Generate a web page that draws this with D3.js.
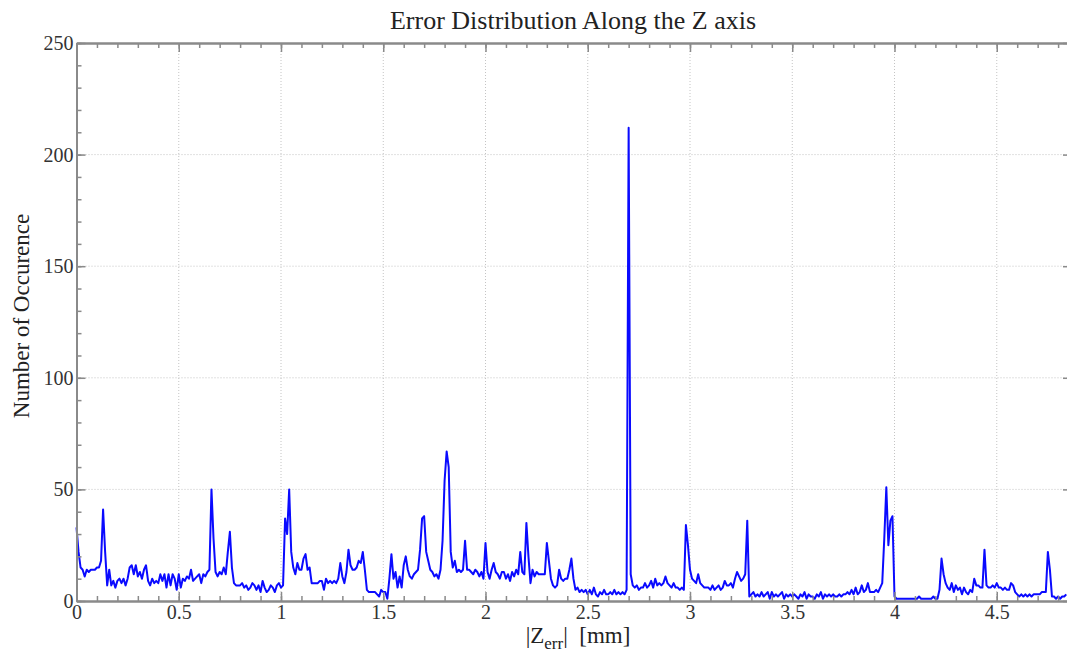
<!DOCTYPE html>
<html>
<head>
<meta charset="utf-8">
<script src="https://cdn.jsdelivr.net/npm/d3@7"></script>
<style>
  body { margin: 0; background: #fff; }
  text { font-family: "Liberation Serif", "Times New Roman", serif; }
</style>
</head>
<body>
<div id="chart"></div>
<script>
// histogram of |Z_err|, one bin every 0.01 mm starting at 0
const binStep = 0.01;
const counts = [
    33, 22, 15, 14, 11, 14, 13, 14, 14, 14,
    15, 15, 18, 41, 22, 7, 14, 7, 9, 6,
    9, 10, 8, 10, 7, 10, 15, 16, 12, 16,
    11, 13, 10, 14, 16, 9, 7, 10, 8, 9,
    8, 12, 9, 12, 6, 12, 7, 12, 10, 5,
    12, 6, 10, 9, 11, 10, 14, 9, 10, 11,
    12, 8, 12, 11, 13, 14, 50, 28, 13, 11,
    13, 12, 15, 12, 22, 31, 15, 8, 7, 7,
    7, 8, 6, 7, 5, 6, 8, 7, 5, 7,
    4, 9, 6, 4, 5, 7, 6, 4, 7, 8,
    6, 7, 37, 30, 50, 22, 15, 12, 17, 14,
    14, 19, 21, 14, 15, 8, 8, 8, 8, 9,
    9, 5, 10, 8, 9, 8, 9, 8, 10, 17,
    11, 8, 13, 23, 16, 14, 14, 15, 18, 17,
    22, 14, 5, 4, 4, 4, 4, 3, 2, 5,
    4, 4, 1, 10, 21, 10, 13, 6, 11, 6,
    16, 20, 14, 11, 10, 12, 13, 14, 23, 37,
    38, 22, 18, 14, 13, 11, 12, 10, 14, 27,
    54, 67, 60, 22, 15, 18, 13, 14, 13, 14,
    27, 14, 14, 13, 12, 14, 13, 11, 13, 10,
    26, 13, 10, 14, 17, 13, 12, 10, 13, 13,
    10, 12, 9, 13, 11, 14, 12, 22, 13, 12,
    35, 20, 8, 14, 11, 13, 12, 12, 12, 12,
    26, 18, 10, 7, 6, 7, 14, 10, 9, 10,
    10, 14, 19, 10, 5, 6, 4, 5, 4, 5,
    3, 5, 3, 6, 3, 2, 4, 3, 5, 3,
    3, 4, 3, 5, 3, 4, 3, 4, 3, 5,
    212, 12, 7, 6, 7, 5, 6, 6, 8, 6,
    7, 9, 6, 10, 7, 8, 7, 8, 11, 8,
    7, 6, 8, 6, 6, 5, 6, 5, 34, 25,
    14, 10, 9, 8, 12, 8, 7, 6, 6, 6,
    5, 7, 5, 6, 7, 5, 6, 9, 7, 7,
    8, 6, 10, 13, 11, 9, 10, 12, 36, 2,
    3, 4, 2, 3, 2, 4, 2, 3, 4, 1,
    4, 2, 3, 2, 3, 4, 1, 3, 2, 3,
    2, 3, 2, 1, 3, 2, 4, 1, 3, 2,
    2, 1, 3, 2, 4, 1, 3, 2, 3, 2,
    3, 2, 2, 3, 2, 3, 3, 4, 3, 5,
    3, 6, 3, 4, 7, 4, 5, 8, 4, 4,
    4, 5, 4, 6, 8, 28, 51, 25, 36, 38,
    2, 1, 1, 1, 1, 1, 1, 1, 1, 1,
    1, 1, 2, 1, 1, 1, 1, 1, 1, 2,
    1, 1, 5, 19, 12, 8, 6, 5, 8, 4,
    7, 5, 6, 3, 6, 4, 3, 5, 4, 10,
    7, 7, 6, 6, 23, 7, 6, 6, 7, 6,
    8, 6, 6, 5, 6, 5, 5, 8, 7, 4,
    3, 2, 3, 2, 3, 2, 3, 2, 3, 3,
    3, 3, 4, 4, 4, 22, 14, 2, 2, 1,
    2, 1, 2, 2, 3
];

const xTicks = [0, 0.5, 1, 1.5, 2, 2.5, 3, 3.5, 4, 4.5];
const yTicks = [0, 50, 100, 150, 200, 250];
const xMinor = d3.range(0, 4.86, 0.1);
const yMinor = d3.range(0, 251, 10);

function init() {
    const w = 1067;
    const h = 659;

    const svg = d3.select("#chart")
        .append("svg")
        .attr("width", w)
        .attr("height", h);

    const x = d3.scaleLinear()
        .domain([0, 4.85])
        .range([76.5, 76.5 + 4.85 * 204.5]);

    const y = d3.scaleLinear()
        .domain([0, 250])
        .range([601, 43]);

    const axisColor = "#8a8a8a";
    const rightEdge = 1072; // right frame sits just outside the picture

    // grid
    svg.append("g")
        .selectAll("line")
        .data(xTicks.slice(1))
        .enter()
        .append("line")
        .attr("x1", d => x(d)).attr("x2", d => x(d))
        .attr("y1", y(0)).attr("y2", y(250))
        .attr("stroke", "#c4c4c4")
        .attr("stroke-dasharray", "1,2");

    svg.append("g")
        .selectAll("line")
        .data(yTicks.slice(1, -1))
        .enter()
        .append("line")
        .attr("x1", x.range()[0]).attr("x2", rightEdge)
        .attr("y1", d => y(d)).attr("y2", d => y(d))
        .attr("stroke", "#c4c4c4")
        .attr("stroke-dasharray", "1,2");

    // data line
    const line = d3.line()
        .x((d, i) => x(i * binStep))
        .y(d => y(d));

    svg.append("path")
        .datum(counts)
        .attr("fill", "none")
        .attr("stroke", "#0a0aff")
        .attr("stroke-width", 2)
        .attr("stroke-linejoin", "round")
        .attr("d", line);

    function styleAxis(g) {
        g.select(".domain").attr("stroke", axisColor).attr("stroke-width", 2);
        g.selectAll(".tick line").attr("stroke", axisColor).attr("stroke-width", 1.5);
        g.selectAll(".tick text")
            .attr("fill", "#333")
            .style("font-size", "20px")
            .style("font-family", "'Liberation Serif', 'Times New Roman', serif");
    }

    // minor ticks
    svg.append("g")
        .attr("transform", "translate(0," + y(0) + ")")
        .call(d3.axisBottom(x).tickValues(xMinor).tickSize(-5).tickSizeOuter(0).tickFormat(""))
        .call(styleAxis);
    svg.append("g")
        .attr("transform", "translate(0," + y(250) + ")")
        .call(d3.axisTop(x).tickValues(xMinor).tickSize(-5).tickSizeOuter(0).tickFormat(""))
        .call(styleAxis);
    svg.append("g")
        .attr("transform", "translate(" + x(0) + ",0)")
        .call(d3.axisLeft(y).tickValues(yMinor).tickSize(-5).tickSizeOuter(0).tickFormat(""))
        .call(styleAxis);
    svg.append("g")
        .attr("transform", "translate(" + rightEdge + ",0)")
        .call(d3.axisRight(y).tickValues(yMinor).tickSize(-5).tickSizeOuter(0).tickFormat(""))
        .call(styleAxis);

    // major ticks
    svg.append("g")
        .attr("transform", "translate(0," + y(0) + ")")
        .call(d3.axisBottom(x).tickValues(xTicks).tickSize(-9).tickSizeOuter(0).tickPadding(4).tickFormat(d3.format("")))
        .call(styleAxis);
    svg.append("g")
        .attr("transform", "translate(0," + y(250) + ")")
        .call(d3.axisTop(x).tickValues(xTicks).tickSize(-9).tickSizeOuter(0).tickFormat(""))
        .call(styleAxis);
    svg.append("g")
        .attr("transform", "translate(" + x(0) + ",0)")
        .call(d3.axisLeft(y).tickValues(yTicks).tickSize(-9).tickSizeOuter(0).tickPadding(3))
        .call(styleAxis);
    svg.append("g")
        .attr("transform", "translate(" + rightEdge + ",0)")
        .call(d3.axisRight(y).tickValues(yTicks).tickSize(-9).tickSizeOuter(0).tickFormat(""))
        .call(styleAxis);

    // title
    svg.append("text")
        .attr("x", 573)
        .attr("y", 29)
        .attr("text-anchor", "middle")
        .attr("fill", "#222")
        .style("font-size", "26px")
        .text("Error Distribution Along the Z axis");

    // y label
    svg.append("text")
        .attr("transform", "translate(29,316) rotate(-90)")
        .attr("text-anchor", "middle")
        .attr("fill", "#222")
        .style("font-size", "23px")
        .text("Number of Occurence");

    // x label
    const xl = svg.append("text")
        .attr("x", 578)
        .attr("y", 643)
        .attr("text-anchor", "middle")
        .attr("fill", "#222")
        .style("font-size", "23px");
    xl.append("tspan").text("|Z");
    xl.append("tspan").attr("dy", 6).style("font-size", "17px").text("err");
    xl.append("tspan").attr("dy", -6).text("|\u00a0\u00a0[mm]");
}

window.onload = init;
</script>
</body>
</html>
